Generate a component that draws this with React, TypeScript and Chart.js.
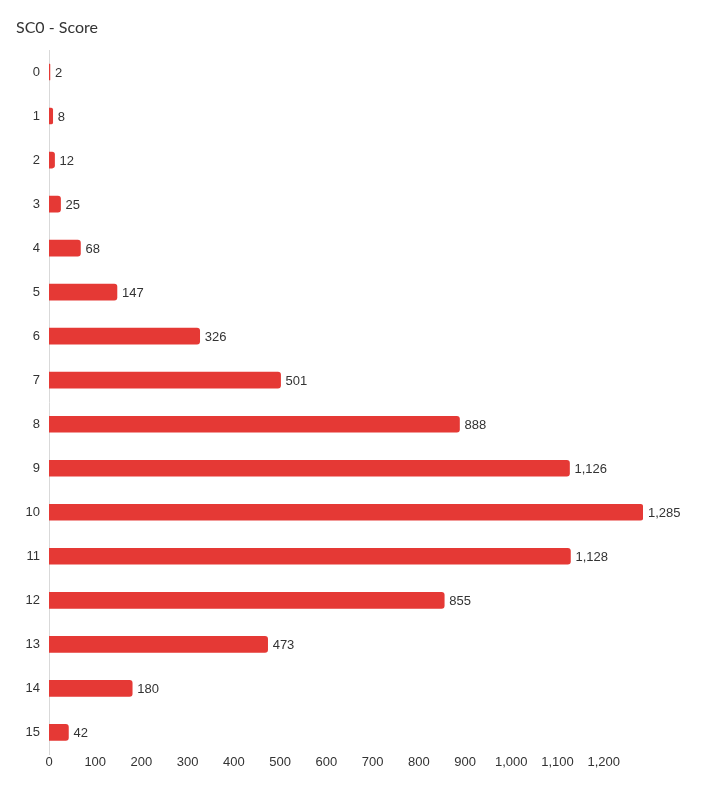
import React, { useEffect, useRef } from 'react';
import { Chart, registerables } from 'chart.js';

Chart.register(...registerables);

// Score buckets and counts
const scoreLabels = ['0', '1', '2', '3', '4', '5', '6', '7', '8', '9', '10', '11', '12', '13', '14', '15'];
const scoreCounts = [2, 8, 12, 25, 68, 147, 326, 501, 888, 1126, 1285, 1128, 855, 473, 180, 42];

const BAR_COLOR = '#e53935';
const TEXT_COLOR = '#333333';
const LABEL_FONT = '"Liberation Sans", Arial, sans-serif';

const fmt = (v: number) => v.toLocaleString('en-US');

// Draws the count at the end of each bar
const valueLabels = {
  id: 'valueLabels',
  afterDatasetsDraw(chart: any) {
    const { ctx } = chart;
    const meta = chart.getDatasetMeta(0);
    ctx.save();
    ctx.font = `13px ${LABEL_FONT}`;
    ctx.fillStyle = TEXT_COLOR;
    ctx.textAlign = 'left';
    ctx.textBaseline = 'middle';
    meta.data.forEach((bar: any, i: number) => {
      ctx.fillText(fmt(scoreCounts[i]), bar.x + 5, bar.y + 1);
    });
    ctx.restore();
  },
};

const ScoreChart: React.FC = () => {
  const canvasRef = useRef<HTMLCanvasElement>(null);
  const chartRef = useRef<Chart | null>(null);

  useEffect(() => {
    document.body.style.margin = '0';
    if (!canvasRef.current) return;
    const ctx = canvasRef.current.getContext('2d');
    if (!ctx) return;

    chartRef.current = new Chart(ctx, {
      type: 'bar',
      data: {
        labels: scoreLabels,
        datasets: [
          {
            data: scoreCounts,
            backgroundColor: BAR_COLOR,
            barThickness: 16,
            borderRadius: { topRight: 3, bottomRight: 3, topLeft: 0, bottomLeft: 0 },
            borderSkipped: 'left',
          },
        ],
      },
      options: {
        indexAxis: 'y',
        responsive: false,
        animation: false,
        layout: { padding: { top: 50, left: 16, right: 77, bottom: 30 } },
        plugins: {
          legend: { display: false },
          tooltip: { enabled: false },
        },
        scales: {
          x: {
            min: 0,
            max: Math.max(...scoreCounts),
            grid: { display: false, drawTicks: false },
            border: { display: false },
            ticks: {
              stepSize: 100,
              includeBounds: false,
              maxRotation: 0,
              autoSkip: false,
              padding: 0,
              color: TEXT_COLOR,
              font: { size: 13, family: LABEL_FONT },
              callback: (v: any) => fmt(Number(v)),
            },
          },
          y: {
            afterFit: (scale: any) => {
              scale.width = 33;
            },
            grid: { display: false, drawTicks: false },
            border: { display: true, color: '#d9d9d9', dash: [2, 3], width: 1 },
            ticks: {
              padding: 9,
              color: TEXT_COLOR,
              font: { size: 13, family: LABEL_FONT },
            },
          },
        },
      },
      plugins: [valueLabels],
    });

    return () => {
      if (chartRef.current) {
        chartRef.current.destroy();
        chartRef.current = null;
      }
    };
  }, []);

  return (
    <div style={{ position: 'relative', width: 720, height: 800, background: '#fff' }}>
      <div
        style={{
          position: 'absolute',
          left: 16,
          top: 17,
          fontFamily: 'Lato, "Open Sans", sans-serif',
          fontSize: 16,
          color: TEXT_COLOR,
          lineHeight: '20px',
        }}
      >
        SC0 - Score
      </div>
      <canvas ref={canvasRef} width={720} height={800} style={{ display: 'block' }} />
    </div>
  );
};

export default function App() {
  return <ScoreChart />;
}
